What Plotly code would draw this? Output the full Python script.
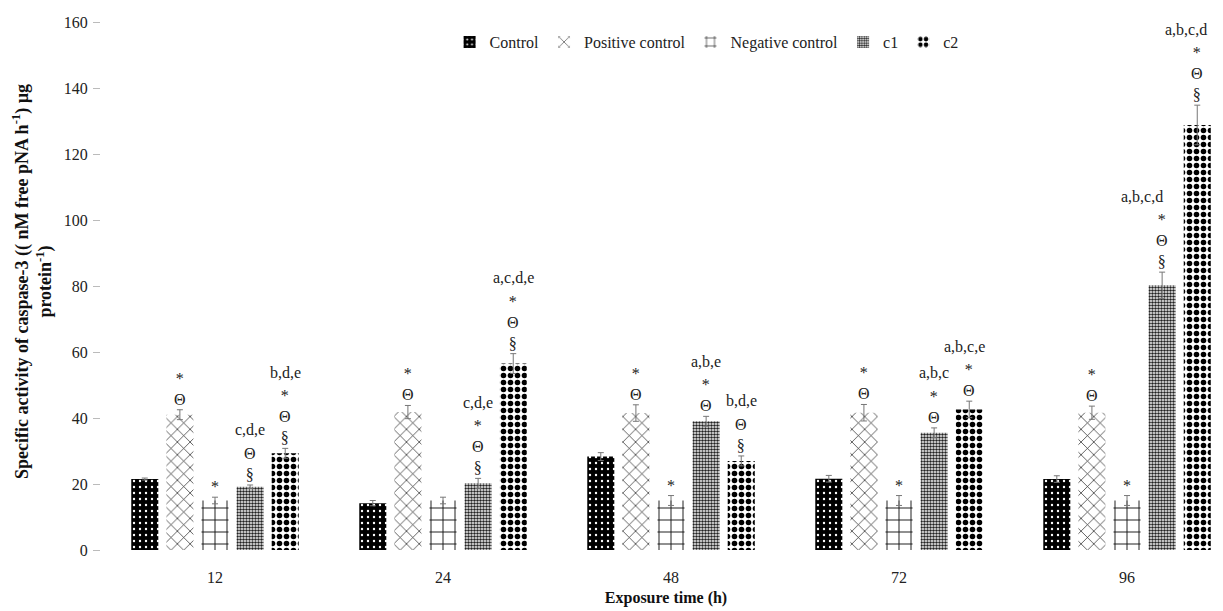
import plotly.graph_objects as go

times = ["12", "24", "48", "72", "96"]
series = ["Control", "Positive control", "Negative control", "c1", "c2"]

control = [21.5, 14.2, 28.3, 21.6, 21.5]
positive = [41.0, 41.8, 41.5, 41.6, 41.6]
negative = [15.0, 15.0, 15.0, 15.0, 15.0]
c1 = [19.2, 20.2, 39.0, 35.5, 80.2]
c2 = [29.3, 56.5, 27.0, 42.6, 128.8]

control_err = [0.3, 0.8, 1.2, 1.0, 1.0]
positive_err = [1.5, 2.0, 2.5, 2.5, 2.0]
negative_err = [1.0, 1.0, 1.5, 1.5, 1.5]
c1_err = [0.5, 1.5, 1.5, 1.5, 4.0]
c2_err = [1.5, 3.0, 1.5, 2.5, 6.0]

control_lbl = ["", "", "", "", ""]
positive_lbl = ["*<br>Θ", "*<br>Θ", "*<br>Θ", "*<br>Θ", "*<br>Θ"]
negative_lbl = ["*", "", "*", "*", "*"]
c1_lbl = ["c,d,e<br>Θ<br>§", "c,d,e<br>*<br>Θ<br>§", "a,b,e<br>*<br>Θ",
          "a,b,c<br>*<br>Θ", "a,b,c,d<br>*<br>Θ<br>§"]
c2_lbl = ["b,d,e<br>*<br>Θ<br>§", "a,c,d,e<br>*<br>Θ<br>§", "b,d,e<br>Θ<br>§",
          "a,b,c,e<br>*<br>Θ", "a,b,c,d<br>*<br>Θ<br>§"]

values = [control, positive, negative, c1, c2]
errors = [control_err, positive_err, negative_err, c1_err, c2_err]
labels = [control_lbl, positive_lbl, negative_lbl, c1_lbl, c2_lbl]

patterns = [
    dict(shape=".", bgcolor="black", fgcolor="white", size=6, solidity=0.12, fillmode="replace"),
    dict(shape="x", bgcolor="white", fgcolor="#222222", size=9, solidity=0.15, fillmode="replace"),
    dict(shape="+", bgcolor="white", fgcolor="#111111", size=12, solidity=0.15, fillmode="replace"),
    dict(shape=".", bgcolor="white", fgcolor="#222222", size=3, solidity=0.55, fillmode="replace"),
    dict(shape=".", bgcolor="white", fgcolor="black", size=7, solidity=0.5, fillmode="replace"),
]

FONT = "Liberation Serif"
ANN_SIZE = 16
LINE_H = ANN_SIZE * 1.3
# horizontal nudges (px) of letter lines, as placed in the original figure
letter_nudge = {(3, 4): -20, (4, 4): -11, (4, 3): -5}

fig = go.Figure()
for name, v, e, p in zip(series, values, errors, patterns):
    fig.add_trace(go.Bar(
        x=times, y=v, name=name,
        marker=dict(color="white", pattern=p, line=dict(width=0)),
        error_y=dict(type="data", array=e, visible=True, color="#777777", thickness=1, width=3),
    ))

bargap = 0.23
step = (1 - bargap) / len(series)
for i, (v, e, lb) in enumerate(zip(values, errors, labels)):
    for j in range(len(times)):
        if not lb[j]:
            continue
        parts = lb[j].split("<br>")
        xpos = j + (i - 2) * step
        ytop = v[j] + e[j]
        if parts[0][:1].isalpha():
            letters, syms = parts[0], parts[1:]
        else:
            letters, syms = None, parts
        fig.add_annotation(
            x=xpos, y=ytop, xref="x", yref="y", text="<br>".join(syms),
            showarrow=False, yanchor="bottom", xanchor="center",
            font=dict(family=FONT, size=ANN_SIZE, color="#222222"),
        )
        if letters:
            fig.add_annotation(
                x=xpos, y=ytop, xref="x", yref="y", text=letters,
                showarrow=False, yanchor="bottom", xanchor="center",
                yshift=len(syms) * LINE_H + 3, xshift=letter_nudge.get((i, j), 0),
                font=dict(family=FONT, size=ANN_SIZE, color="#222222"),
            )

fig.add_annotation(
    xref="paper", yref="paper", x=-0.060, y=0.508, xanchor="center", yanchor="middle",
    textangle=-90, showarrow=False,
    text="<b>Specific activity of caspase-3 (( nM free pNA h<sup>-1</sup>) µg<br>protein<sup>-1</sup>)</b>",
    font=dict(family=FONT, size=18, color="#111111"),
)

fig.update_layout(
    width=1223, height=611,
    margin=dict(l=93, r=0, t=14, b=69),
    paper_bgcolor="white", plot_bgcolor="white",
    barmode="group", bargap=bargap, bargroupgap=0.23,
    font=dict(family=FONT, size=14, color="#222222"),
    legend=dict(orientation="h", x=0.3085, y=0.962, xanchor="left", yanchor="middle",
                font=dict(family=FONT, size=16, color="#222222"),
                itemwidth=30, tracegroupgap=0, bgcolor="rgba(0,0,0,0)"),
    xaxis=dict(type="category", range=[-0.5, 4.456], showline=False, ticks="",
               automargin=False, ticklabelstandoff=16,
               tickfont=dict(family=FONT, size=16, color="#222222"),
               title=dict(text="<b>Exposure time (h)</b>", standoff=6,
                          font=dict(family=FONT, size=16, color="#111111"))),
    yaxis=dict(range=[0, 160], dtick=20, showgrid=False, zeroline=False, showline=False,
               automargin=False, ticklabelstandoff=2,
               ticks="outside", ticklen=7, tickcolor="#bbbbbb",
               tickfont=dict(family=FONT, size=16, color="#222222")),
)

fig.write_html("out.html")
